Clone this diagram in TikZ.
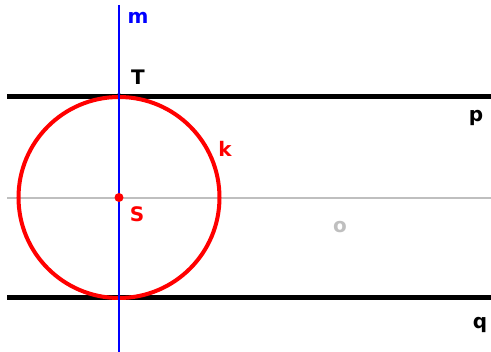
\documentclass[tikz,border=0pt]{standalone}
\usepackage{fontspec}
\setmainfont{DejaVu Sans}
\begin{document}
\begin{tikzpicture}[x=1pt,y=-1pt,
  lbl/.style={font=\bfseries\fontsize{20}{20}\selectfont, anchor=base, inner sep=0pt},
  thickline/.style={line width=5pt, black},
  pt/.style={circle, inner sep=0pt, minimum size=#1}]
\useasboundingbox (0,0) rectangle (491,352);
\coordinate (oL) at (7,198);
\coordinate (oR) at (491,198);
\coordinate (pL) at (7,96.5);
\coordinate (pR) at (491,96.5);
\coordinate (qL) at (7,298);
\coordinate (qR) at (491,298);
\coordinate (mT) at (119,5);
\coordinate (mB) at (119,352);
\draw[line width=1.5pt, black!25] (oL) -- (oR);
\draw[thickline] (pL) -- (pR);
\draw[thickline] (qL) -- (qR);
\node[pt=4pt, fill=black] (T) at (119,95) {};
\draw[red, line width=4pt] (119,197.5) circle[radius=100.5];
\draw[blue, line width=1.5pt] (mT) -- (mB);
\node[pt=9pt, fill=red] (S) at (119,197.5) {};
\node[lbl, text=blue] (lm) at (138,24) {m};
\node[lbl, text=black] (lT) at (138,85) {T};
\node[lbl, text=red] (lS) at (137,222) {S};
\node[lbl, text=red] (lk) at (225,157) {k};
\node[lbl, text=black!25] (lo) at (340,233) {o};
\node[lbl, text=black] (lp) at (476,122) {p};
\node[lbl, text=black] (lq) at (480,329) {q};
\end{tikzpicture}
\end{document}
